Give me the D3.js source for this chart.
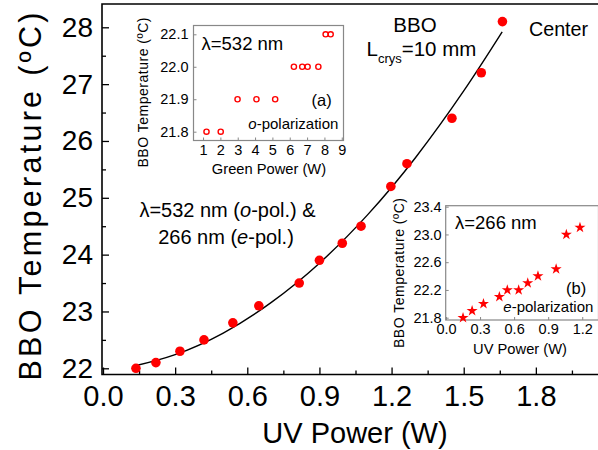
<!DOCTYPE html>
<html><head><meta charset="utf-8">
<script src="https://cdn.jsdelivr.net/npm/d3@7"></script>
<style>
body{margin:0;background:#fff}
svg{display:block}
text{font-family:"Liberation Sans",Arial,Helvetica,sans-serif;fill:#000}
</style>
</head><body><svg id="c" width="598" height="450"></svg>
<script>
// Main data (UV power vs BBO phase-matching temperature, "Center")
const uvPower = [0.137,0.22,0.32,0.42,0.54,0.648,0.816,0.90,0.995,1.073,1.197,1.264,1.451,1.573,1.661];
const bboTemp = [22.0,22.1,22.3,22.5,22.8,23.1,23.5,23.9,24.2,24.5,25.2,25.6,26.4,27.2,28.1];
// Fit curve
const fitPower = [0.13,0.3,0.5,0.7,0.9,1.1,1.3,1.5,1.66];
const fitTemp = [22.04,22.24,22.62,23.16,23.85,24.70,25.71,26.88,27.92];
// Inset (a): green power, o-polarization
const greenPower = [1.2,2.02,2.99,4.08,5.16,6.24,6.72,7.03,7.65,8.07,8.36];
const greenTemp = [21.8,21.8,21.9,21.9,21.9,22.0,22.0,22.0,22.0,22.1,22.1];
// Inset (b): UV power, e-polarization
const uvPowerE = [0.15,0.23,0.33,0.47,0.54,0.64,0.72,0.81,0.97,1.06,1.18];
const uvTempE = [21.8,21.9,22.0,22.1,22.2,22.2,22.3,22.4,22.5,23.0,23.1];
// Ticks
const mainXTicks = [0,0.3,0.6,0.9,1.2,1.5,1.8];
const mainXMinor = [0.15,0.45,0.75,1.05,1.35,1.65,1.95];
const mainYTicks = [22,23,24,25,26,27,28];
const mainYMinor = [22.5,23.5,24.5,25.5,26.5,27.5];
const insetAXTicks = [1,2,3,4,5,6,7,8,9];
const insetAYTicks = [21.8,21.9,22.0,22.1];
const insetBXTicks = [0,0.3,0.6,0.9,1.2];
const insetBYTicks = [21.8,22.2,22.6,23.0,23.4];

const svg = d3.select("#c");
const red = "#ff0000";

// ---------- main plot ----------
const M = {left:102, right:640, top:4, bottom:374.5};
const x = d3.scaleLinear().domain([0,2.1]).range([103,608]);
const y = d3.scaleLinear().domain([22,28]).range([368.3,27.3]);

function styleAxis(g, fs){
  g.select(".domain").remove();
  g.selectAll(".tick line").attr("stroke","#000").attr("stroke-width",1.3);
  g.selectAll(".tick text").attr("font-size",fs).attr("font-family","'Liberation Sans',Arial,sans-serif").attr("fill","#000");
}

const gx = svg.append("g").attr("transform",`translate(0,${M.bottom})`)
  .call(d3.axisBottom(x).tickValues(mainXTicks).tickSize(-7).tickPadding(11).tickFormat(d3.format(".1f")));
styleAxis(gx,29);
const gxm = svg.append("g").attr("transform",`translate(0,${M.bottom})`)
  .call(d3.axisBottom(x).tickValues(mainXMinor).tickSize(-4).tickFormat(""));
styleAxis(gxm,0);
const gy = svg.append("g").attr("transform",`translate(${M.left},0)`)
  .call(d3.axisLeft(y).tickValues(mainYTicks).tickSize(-7).tickPadding(9).tickFormat(d3.format("d")));
styleAxis(gy,28);
const gym = svg.append("g").attr("transform",`translate(${M.left},0)`)
  .call(d3.axisLeft(y).tickValues(mainYMinor).tickSize(-4).tickFormat(""));
styleAxis(gym,0);

svg.append("path")
  .attr("d",`M${M.right},${M.top}H${M.left}V${M.bottom}H${M.right}`)
  .attr("fill","none").attr("stroke","#000").attr("stroke-width",1.6);

// fit curve
svg.append("path")
  .datum(fitPower.map((p,i)=>[p,fitTemp[i]]))
  .attr("d", d3.line().x(d=>x(d[0])).y(d=>y(d[1])).curve(d3.curveNatural))
  .attr("fill","none").attr("stroke","#000").attr("stroke-width",1.4);

svg.append("g").selectAll("circle").data(uvPower.map((p,i)=>[p,bboTemp[i]])).join("circle")
  .attr("cx",d=>x(d[0])).attr("cy",d=>y(d[1])).attr("r",4.8).attr("fill",red);

// axis titles
svg.append("text").attr("x",355).attr("y",442.5).attr("text-anchor","middle")
  .attr("font-size",29).text("UV Power (W)");
svg.append("text").attr("transform","translate(41,196.5) rotate(-90)").attr("text-anchor","middle")
  .attr("font-size",30.5).attr("textLength",368).attr("lengthAdjust","spacing").text("BBO Temperature (ºC)");

// annotations
const t1 = svg.append("text").attr("x",227.5).attr("y",217.3).attr("text-anchor","middle").attr("font-size",20);
t1.append("tspan").text("λ=532 nm (");
t1.append("tspan").attr("font-style","italic").text("o");
t1.append("tspan").text("-pol.) &");
const t2 = svg.append("text").attr("x",226).attr("y",244.3).attr("text-anchor","middle").attr("font-size",20);
t2.append("tspan").text("266 nm (");
t2.append("tspan").attr("font-style","italic").text("e");
t2.append("tspan").text("-pol.)");

svg.append("text").attr("x",415).attr("y",31.7).attr("text-anchor","middle").attr("font-size",20.5).text("BBO");
const tl = svg.append("text").attr("x",366.5).attr("y",56).attr("font-size",20.5);
tl.append("tspan").text("L");
tl.append("tspan").attr("font-size",13).attr("dy",7).text("crys");
tl.append("tspan").attr("dy",-7).text("=10 mm");
svg.append("text").attr("x",529).attr("y",36).attr("font-size",19.7).text("Center");

// ---------- inset (a) ----------
const A = {left:193.5,right:343.5,top:25.5,bottom:140.5};
const xa = d3.scaleLinear().domain([0.45,9.1]).range([A.left,A.right]);
const ya = d3.scaleLinear().domain([21.8,22.1]).range([131.7,34.3]);
svg.append("rect").attr("x",A.left).attr("y",A.top).attr("width",A.right-A.left).attr("height",A.bottom-A.top)
  .attr("fill","#fff").attr("stroke","#888").attr("stroke-width",1.2);
const gax = svg.append("g").attr("transform",`translate(0,${A.bottom})`)
  .call(d3.axisBottom(xa).tickValues(insetAXTicks).tickSize(-3).tickPadding(4).tickFormat(d3.format("d")));
styleAxis(gax,14.5);
const gay = svg.append("g").attr("transform",`translate(${A.left},0)`)
  .call(d3.axisLeft(ya).tickValues(insetAYTicks).tickSize(-3).tickPadding(5).tickFormat(d3.format(".1f")));
styleAxis(gay,14.5);
gax.selectAll(".tick line").attr("stroke","#888").attr("stroke-width",1);
gay.selectAll(".tick line").attr("stroke","#888").attr("stroke-width",1);
svg.append("g").selectAll("circle").data(greenPower.map((p,i)=>[p,greenTemp[i]])).join("circle")
  .attr("cx",d=>xa(d[0])).attr("cy",d=>ya(d[1])).attr("r",2.6)
  .attr("fill","none").attr("stroke",red).attr("stroke-width",1.4);
svg.append("text").attr("x",269).attr("y",173.5).attr("text-anchor","middle").attr("font-size",14.7).text("Green Power (W)");
svg.append("text").attr("transform","translate(148,92.5) rotate(-90)").attr("text-anchor","middle")
  .attr("font-size",14).attr("textLength",150).attr("lengthAdjust","spacing").text("BBO Temperature (ºC)");
svg.append("text").attr("x",201.5).attr("y",49.5).attr("font-size",18.5).text("λ=532 nm");
svg.append("text").attr("x",311.5).attr("y",106).attr("font-size",16.5).text("(a)");
const ta = svg.append("text").attr("x",248.3).attr("y",129.3).attr("font-size",15);
ta.append("tspan").attr("font-style","italic").text("o");
ta.append("tspan").text("-polarization");

// ---------- inset (b) ----------
const B = {left:445.7,right:598.5,top:205.7,bottom:320};
const xb = d3.scaleLinear().domain([0,1.33]).range([446,597]);
const yb = d3.scaleLinear().domain([21.8,23.4]).range([317.7,206.7]);
svg.append("rect").attr("x",B.left).attr("y",B.top).attr("width",B.right-B.left).attr("height",B.bottom-B.top)
  .attr("fill","#fff").attr("stroke","#888").attr("stroke-width",1.2);
const gbx = svg.append("g").attr("transform",`translate(0,${B.bottom})`)
  .call(d3.axisBottom(xb).tickValues(insetBXTicks).tickSize(-3).tickPadding(4).tickFormat(d3.format(".1f")));
styleAxis(gbx,14.5);
const gby = svg.append("g").attr("transform",`translate(${B.left},0)`)
  .call(d3.axisLeft(yb).tickValues(insetBYTicks).tickSize(-3).tickPadding(4).tickFormat(d3.format(".1f")));
styleAxis(gby,14.5);
gbx.selectAll(".tick line").attr("stroke","#888").attr("stroke-width",1);
gby.selectAll(".tick line").attr("stroke","#888").attr("stroke-width",1);
svg.append("g").selectAll("path").data(uvPowerE.map((p,i)=>[p,uvTempE[i]])).join("path")
  .attr("transform",d=>`translate(${xb(d[0])},${yb(d[1])})`)
  .attr("d",d3.symbol(d3.symbolStar).size(38)).attr("fill",red);
svg.append("text").attr("x",520).attr("y",353.5).attr("text-anchor","middle").attr("font-size",14.7).text("UV Power (W)");
svg.append("text").attr("transform","translate(403.5,273) rotate(-90)").attr("text-anchor","middle")
  .attr("font-size",14).attr("textLength",150).attr("lengthAdjust","spacing").text("BBO Temperature (ºC)");
svg.append("text").attr("x",455).attr("y",228.5).attr("font-size",18.5).text("λ=266 nm");
svg.append("text").attr("x",566).attr("y",293.5).attr("font-size",16.5).text("(b)");
const tb = svg.append("text").attr("x",503.3).attr("y",311.7).attr("font-size",15);
tb.append("tspan").attr("font-style","italic").text("e");
tb.append("tspan").text("-polarization");
</script>
</body></html>
